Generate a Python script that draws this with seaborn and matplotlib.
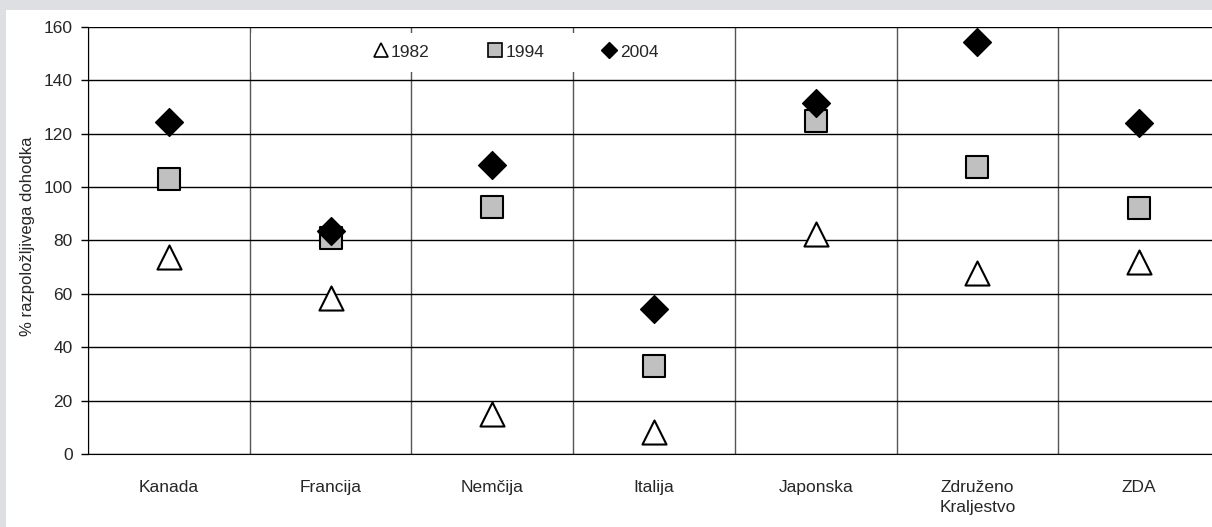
import pandas as pd
import matplotlib.pyplot as plt
import seaborn as sns
from matplotlib.lines import Line2D
from matplotlib.patches import Rectangle

drzave = ['Kanada', 'Francija', 'Nemčija', 'Italija', 'Japonska',
          'Združeno\nKraljestvo', 'ZDA']
leta = ['1982', '1994', '2004']
vr_1982 = [74, 58.5, 15, 8.3, 82.4, 68, 72]
vr_1994 = [103, 81, 92.5, 32.8, 124.6, 107.5, 92]
vr_2004 = [124.3, 83.5, 108.4, 54.5, 131.7, 154.5, 124]

df = pd.DataFrame({
    'drzava': drzave * 3,
    'leto': [leta[0]] * 7 + [leta[1]] * 7 + [leta[2]] * 7,
    'vrednost': vr_1982 + vr_1994 + vr_2004,
})

sns.set_style('white')
plt.rcParams['font.family'] = ['Liberation Sans', 'DejaVu Sans']

stili = {
    '1982': dict(marker='^', s=300, color='white', edgecolor='black', linewidth=1.5),
    '1994': dict(marker='s', s=260, color='#c0c0c0', edgecolor='black', linewidth=1.5),
    '2004': dict(marker='D', s=200, color='black', edgecolor='black', linewidth=1),
}

fig = plt.figure(figsize=(12.12, 5.27), dpi=100)
fig.patch.set_facecolor('#dedfe2')
fig.patches.append(Rectangle((6 / 1212, 0), 1, 517 / 527, transform=fig.transFigure,
                             facecolor='white', edgecolor='none', zorder=-5))

ax = fig.add_axes([88 / 1212, 73 / 527, 1132 / 1212, 427 / 527])
ax.set_facecolor('white')

for i, leto in enumerate(leta):
    sub = df[df['leto'] == leto]
    sns.scatterplot(data=sub, x='drzava', y='vrednost', ax=ax, legend=False,
                    zorder=3 + i, clip_on=False, **stili[leto])

ax.set_xlim(-0.5, 6.5)
ax.set_ylim(0, 160)
ax.set_yticks(range(0, 161, 20))
ax.set_xticks(range(len(drzave)))
ax.set_xticklabels(drzave, fontsize=12.5, linespacing=1.35)
ax.set_xticks([x + 0.5 for x in range(-1, len(drzave))], minor=True)

ax.grid(axis='y', which='major', color='black', linewidth=1, zorder=0)
ax.grid(axis='x', which='minor', color='#555555', linewidth=1, zorder=0)
ax.grid(axis='x', which='major', visible=False)
ax.set_axisbelow(True)

ax.tick_params(axis='x', which='major', length=0, pad=19)
ax.tick_params(axis='x', which='minor', direction='out', length=5, width=1, color='#555555')
ax.tick_params(axis='y', direction='out', length=5, width=1, color='black',
               labelsize=12.5, pad=6)
ax.tick_params(axis='y', left=True)

for side in ['top', 'right']:
    ax.spines[side].set_visible(False)
ax.spines['left'].set_color('black')
ax.spines['bottom'].set_color('black')

ax.set_xlabel('')
ax.set_ylabel('% razpoložljivega dohodka', fontsize=12)
ax.yaxis.set_label_coords(-0.047, 0.51)

# bela podlaga legende, ki prekrije mrežo
ax.add_patch(Rectangle((0.51, 143.2), 2.98, 14.6, facecolor='white',
                       edgecolor='none', zorder=2))

roc = [
    Line2D([], [], linestyle='none', marker='^', markersize=10, markerfacecolor='white',
           markeredgecolor='black', markeredgewidth=1.2),
    Line2D([], [], linestyle='none', marker='s', markersize=10, markerfacecolor='#c0c0c0',
           markeredgecolor='black', markeredgewidth=1.2),
    Line2D([], [], linestyle='none', marker='D', markersize=8, markerfacecolor='black',
           markeredgecolor='black'),
]
leg = ax.legend(roc, leta, loc='center', bbox_to_anchor=(0.378, 0.9415), ncol=3,
                frameon=False, fontsize=12.5, handlelength=0.8, handletextpad=0.2,
                columnspacing=3.35)
leg.set_zorder(5)

plt.savefig('out.png', dpi=100, facecolor=fig.get_facecolor())
